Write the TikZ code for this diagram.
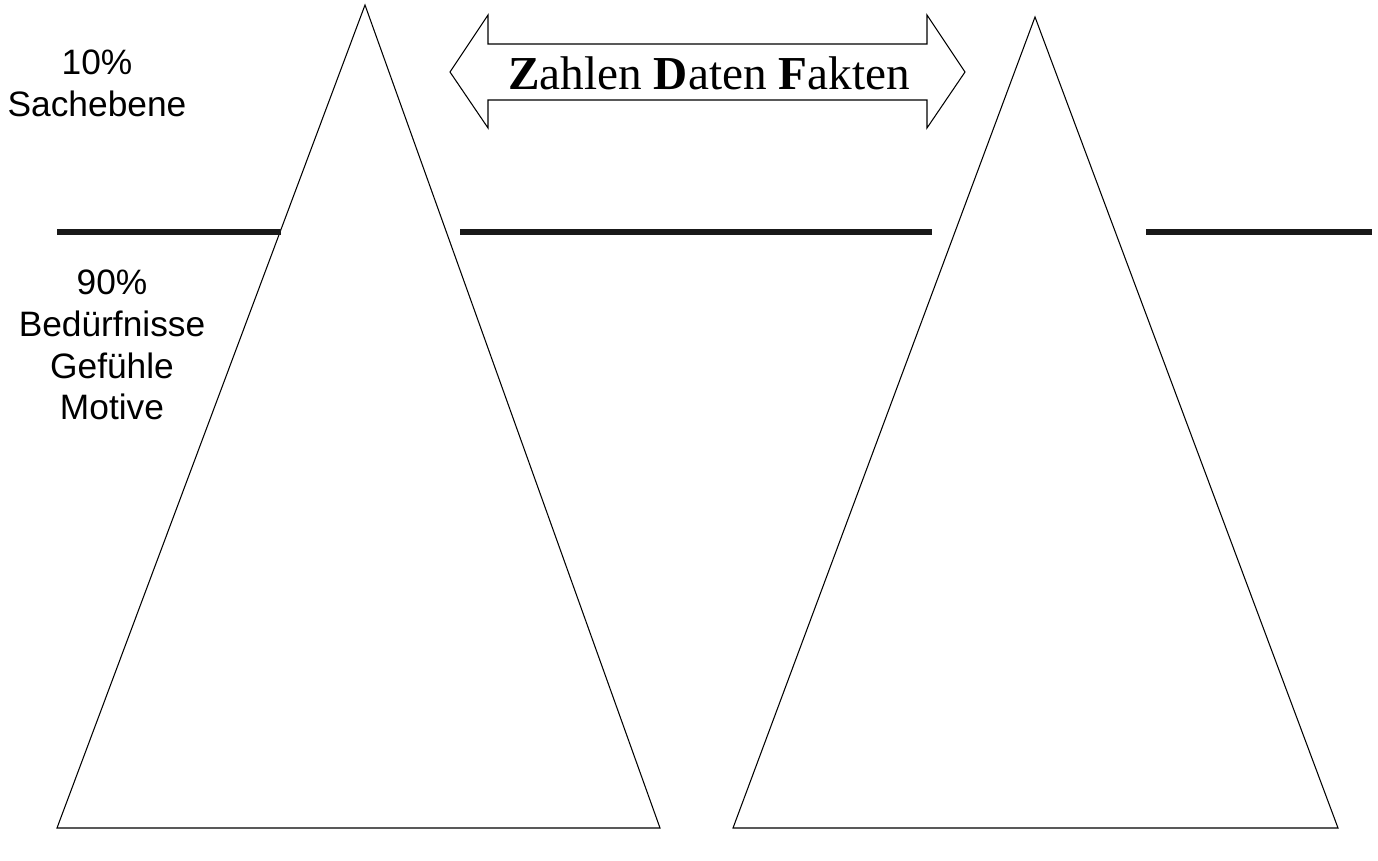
\documentclass[tikz,border=0pt]{standalone}
\usepackage{fontspec}
\setmainfont{Liberation Serif}
\setsansfont{Liberation Sans}
\usepackage{tikz}
\usetikzlibrary{positioning}

\tikzset{
  berg/.style={draw=black,line width=0.6pt,line join=miter},
  ebene/.style={draw=black!90,line width=3.2pt},
  etikett/.style={font=\sffamily\fontsize{20.1}{23.8}\selectfont,align=center,inner sep=0pt}
}

\begin{document}
\begin{tikzpicture}[x=0.02cm,y=-0.02cm]
\useasboundingbox (0,0) rectangle (1378,861);
% two icebergs
\draw[berg] (365,5) -- (660,828) -- (57,828) -- cycle;
\draw[berg] (1035,17) -- (1338,828) -- (733,828) -- cycle;
% water line
\draw[ebene] (57,232) -- (281,232);
\draw[ebene] (460,232) -- (932,232);
\draw[ebene] (1146,232) -- (1372,232);
% double arrow
\draw[line width=0.6pt,line join=miter] (450,72) -- (488,15) -- (488,44) -- (927,44) -- (927,15)
  -- (965,72) -- (927,128) -- (927,100) -- (488,100) -- (488,128) -- cycle;
\node[font=\fontsize{26.9}{30}\selectfont,inner sep=0pt] (zdf) at (709,73)
  {\textbf{Z}ahlen \textbf{D}aten \textbf{F}akten};
% labels
\node[etikett] (sach) at (97,83) {10\%\\Sachebene};
\node[etikett] (gefuehl) at (112,345) {90\%\\Bedürfnisse\\Gefühle\\Motive};
\end{tikzpicture}
\end{document}
